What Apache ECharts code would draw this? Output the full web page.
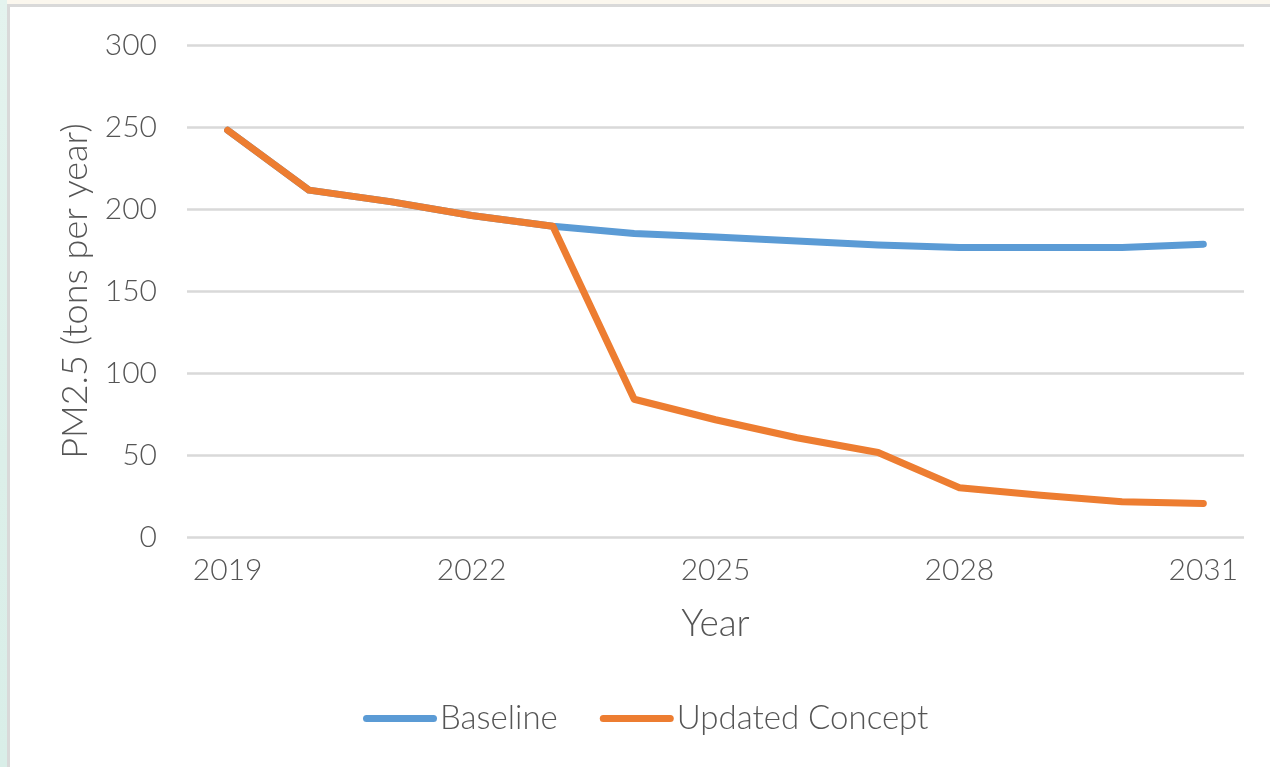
<!DOCTYPE html>
<html>
<head>
<meta charset="utf-8">
<script src="https://cdn.jsdelivr.net/npm/echarts@6/dist/echarts.min.js"></script>
<style>
  html, body { margin: 0; padding: 0; width: 1270px; height: 767px; overflow: hidden; background: #ffffff; }
  #edgeTop { position: absolute; left: 0; top: 0; width: 1270px; height: 4px; background: #fbf7ee; }
  #edgeLeft { position: absolute; left: 0; top: 0; width: 7px; height: 767px;
              background: linear-gradient(180deg, #e4f3ee 0%, #dcefe9 60%, #d9eee8 100%); }
  #panel { position: absolute; left: 7px; top: 4px; right: 0; bottom: 0; background: #ffffff;
           border-left: 3px solid #d9d9d9; border-top: 3px solid #d9d9d9; }
  #chart { position: absolute; left: 0; top: 0; width: 1270px; height: 767px; }
</style>
</head>
<body>
<div id="edgeTop"></div>
<div id="edgeLeft"></div>
<div id="panel"></div>
<div id="chart"></div>
<script>
// PM2.5 emissions by year, tons per year
const years = ['2019', '2020', '2021', '2022', '2023', '2024', '2025',
               '2026', '2027', '2028', '2029', '2030', '2031'];
const baseline = [248, 211.5, 204.5, 196, 189.5, 185, 183, 180.5, 178, 176.5, 176.5, 176.5, 178.5];
const updatedConcept = [248, 211.5, 204.5, 196, 189.5, 84, 71.5, 60.5, 51.5, 30, 25.5, 21.5, 20.5];
const yTicks = { min: 0, max: 300, step: 50 };

const textColor = '#555555';
const fontFamily = 'Lato, "Open Sans", sans-serif';
const fontWeight = 300;

const chart = echarts.init(document.getElementById('chart'), null, { renderer: 'canvas' });
chart.setOption({
  backgroundColor: 'transparent',
  animation: false,
  textStyle: { fontFamily: fontFamily, color: textColor, fontWeight: fontWeight },
  grid: { left: 187, right: 26, top: 45, bottom: 230, containLabel: false },
  legend: {
    left: 358,
    top: 697,
    itemWidth: 74,
    itemHeight: 14,
    itemGap: 42,
    icon: 'path://M3.5,5.5 L70.5,5.5 A3.5,3.5 0 0 1 70.5,12.5 L3.5,12.5 A3.5,3.5 0 0 1 3.5,5.5 Z',
    textStyle: { fontSize: 33, color: textColor, fontFamily: fontFamily, fontWeight: fontWeight, padding: [0, 0, 0, -2] },
    data: ['Baseline', 'Updated Concept']
  },
  xAxis: {
    type: 'category',
    data: years,
    boundaryGap: true,
    name: 'Year',
    nameLocation: 'middle',
    nameGap: 69,
    nameTextStyle: { fontSize: 37, color: textColor, fontFamily: fontFamily, fontWeight: fontWeight },
    axisLine: { show: false },
    axisTick: { show: false },
    axisLabel: { interval: 2, margin: 18, fontSize: 30, color: textColor, fontFamily: fontFamily, fontWeight: fontWeight },
    splitLine: { show: false }
  },
  yAxis: {
    type: 'value',
    min: yTicks.min,
    max: yTicks.max,
    interval: yTicks.step,
    name: 'PM2.5 (tons per year)',
    nameLocation: 'middle',
    nameRotate: 90,
    nameGap: 94,
    nameTextStyle: { fontSize: 36, color: textColor, fontFamily: fontFamily, fontWeight: fontWeight },
    axisLine: { show: false },
    axisTick: { show: false },
    axisLabel: { margin: 30, fontSize: 30, color: textColor, fontFamily: fontFamily, fontWeight: fontWeight },
    splitLine: { show: true, lineStyle: { color: '#d9d9d9', width: 2.5 } }
  },
  series: [
    {
      name: 'Baseline',
      type: 'line',
      data: baseline,
      symbol: 'none',
      color: '#5b9bd5',
      lineStyle: { color: '#5b9bd5', width: 7, cap: 'round', join: 'round' },
      z: 2
    },
    {
      name: 'Updated Concept',
      type: 'line',
      data: updatedConcept,
      symbol: 'none',
      color: '#ed7d31',
      lineStyle: { color: '#ed7d31', width: 7, cap: 'round', join: 'round' },
      z: 3
    }
  ]
});
</script>
</body>
</html>
